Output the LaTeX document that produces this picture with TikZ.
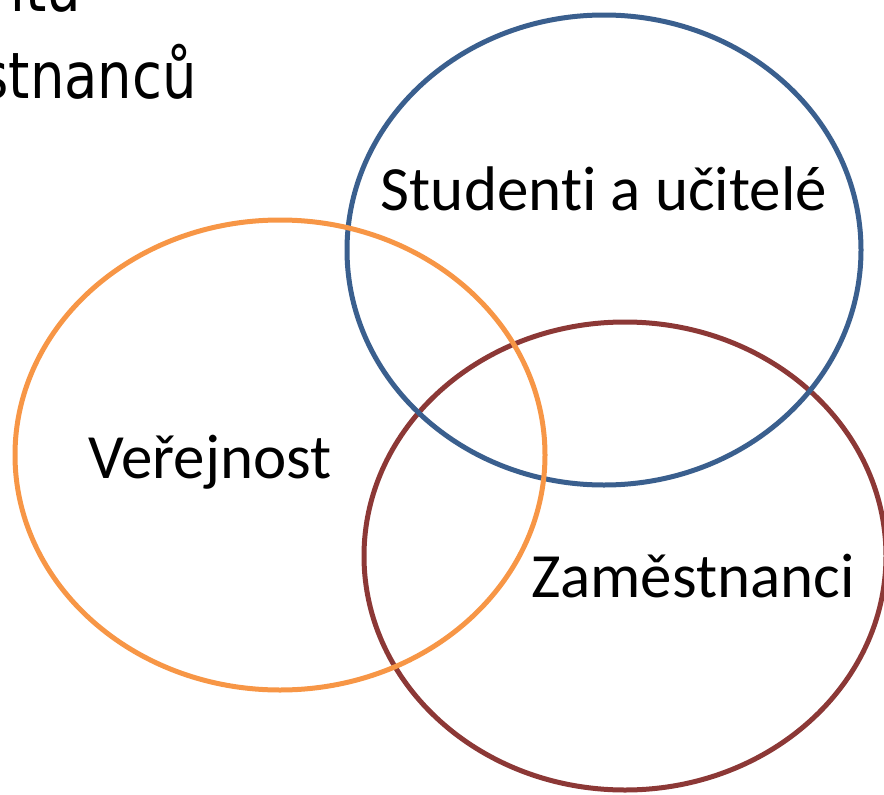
\documentclass[tikz,border=0pt]{standalone}
\usepackage{fontspec}
\setmainfont{Carlito}[Ligatures=CommonOff]
\newfontfamily\topfont{DejaVu Sans}[FakeStretch=0.85]
\begin{document}
\begin{tikzpicture}[x=1pt,y=-1pt,
  ring/.style={line width=5pt},
  label text/.style={font=\fontsize{63}{68}\selectfont,inner sep=0pt,anchor=base},
  top text/.style={font=\topfont\fontsize{64}{70}\selectfont,inner sep=0pt,anchor=base east}]
  \definecolor{ringblue}{HTML}{3A5F8E}
  \definecolor{ringorange}{HTML}{F79646}
  \definecolor{ringbrown}{HTML}{8C3836}
  \useasboundingbox (0,0) rectangle (884,795);
  \clip (0,0) rectangle (884,795);
  \coordinate(v) at (280,455);
  \coordinate(z) at (625,556);
  \coordinate(s) at (604,250);
  \draw[ring,ringbrown] (z) ellipse [x radius=261, y radius=234];% zamestnanci
  \draw[ring,ringblue] (s) ellipse [x radius=257, y radius=235];% studenti
  \draw[ring,ringorange] (v) ellipse [x radius=265, y radius=235];% verejnost
  \node[label text] (ls) at (604,210) {Studenti a učitelé};
  \node[label text] (lv) at (210,478) {Veřejnost};
  \node[label text] (lz) at (693,597) {Zaměstnanci};
  \node[top text] (t1) at (81,12) {ntu};
  \node[top text] (t2) at (197,98) {stnanců};
\end{tikzpicture}
\end{document}
